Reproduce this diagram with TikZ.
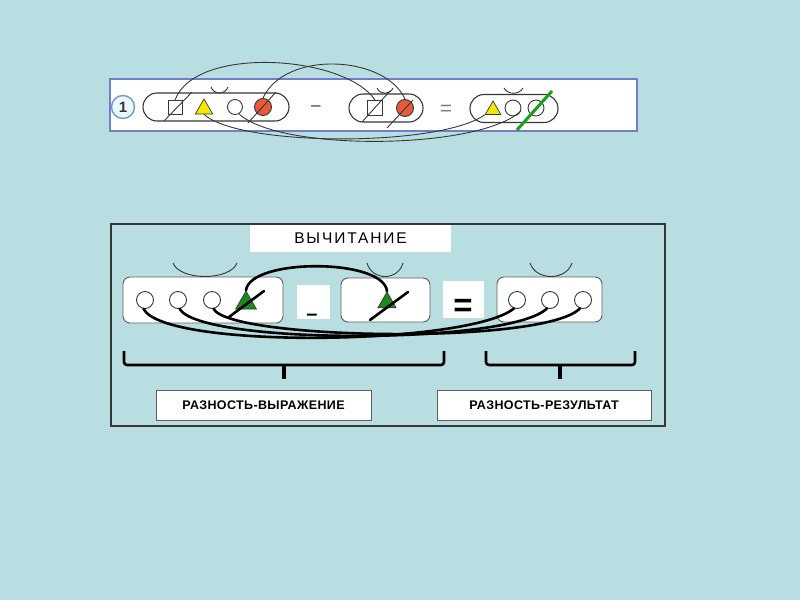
\documentclass[tikz,border=0pt]{standalone}
\usepackage{fontspec}
\setmainfont{Liberation Sans}
\usepackage{tikz}
\usetikzlibrary{shapes.geometric,calc}
\definecolor{sea}{RGB}{185,222,226}
\definecolor{frameblue}{RGB}{112,126,205}
\definecolor{tomato}{RGB}{232,90,58}
\definecolor{lemon}{RGB}{246,232,0}
\definecolor{leaf}{RGB}{28,138,30}
\definecolor{pen}{RGB}{55,55,55}

\begin{document}
\begin{tikzpicture}[x=1pt,y=-1pt,
  pill/.style={draw=pen, line width=1.1pt, rounded corners=14pt, inner sep=0, minimum height=28},
  ring/.style={draw=pen, circle, inner sep=0, line width=0.9pt},
  tri/.style={draw=pen, regular polygon, regular polygon sides=3, inner sep=0, line width=0.7pt},
  card/.style={draw=pen!80, fill=white, rounded corners=7pt, inner sep=0, line width=0.9pt},
  tag/.style={draw=pen!80, fill=white, inner sep=0, line width=0.9pt, font=\fontsize{12.5}{14}\selectfont\bfseries\addfontfeatures{LetterSpace=3}},
  link/.style={line width=2.6pt, line cap=round},
  thread/.style={pen, line width=0.9pt},
  smile/.style={pen, line width=0.9pt}]
\useasboundingbox (0,0) rectangle (800,600);
\fill [sea] (0,0) rectangle (800,600);
% upper strip
\draw [frameblue, line width=1.3pt, fill=white] (110,79) rectangle (637,131);
\node [circle, draw=cyan!50!blue!60, fill=cyan!8, line width=1.4pt, minimum size=23, inner sep=0, font=\fontsize{15}{15}\selectfont\bfseries, text=pen] (n1) at (123,107) {1};
\node [pill, minimum width=146] (c1) at (216,107) {};
\node [draw=pen, minimum size=14, inner sep=0, line width=0.9pt] (sq1) at (175,107.5) {};
\node [tri, fill=lemon, minimum size=20] (tr1) at (204,109) {};
\node [ring, minimum size=15] (ci1) at (235,107) {};
\node [ring, fill=tomato, minimum size=17] (rd1) at (263,107) {};
\draw [smile] (211,87) .. controls (214,95) and (225,95) .. (228,87);
\draw [thread] (164,121) -- (192,92);
\draw [thread] (248,123) -- (276,92);
\node [text=gray, font=\fontsize{19}{19}\selectfont\bfseries] (mi1) at (316,108) {–};
\node [pill, minimum width=74] (c2) at (386,108) {};
\node [draw=pen, minimum size=15, inner sep=0, line width=0.9pt] (sq2) at (375,108) {};
\node [ring, fill=tomato, minimum size=17] (rd2) at (405,108) {};
\draw [smile] (377,88) .. controls (380,95) and (390,95) .. (393,88);
\draw [thread] (362,122) -- (390,91);
\draw [thread] (387,128) -- (413,100);
\node [text=gray, font=\fontsize{21}{21}\selectfont] (eq1) at (446,110) {=};
\node [pill, minimum width=88] (c3) at (514,108.5) {};
\node [tri, fill=lemon, minimum size=18] (tr3) at (493,110) {};
\node [ring, minimum size=16] (ci3) at (513,108) {};
\node [ring, minimum size=16] (cj3) at (536,108) {};
\draw [smile] (504,88) .. controls (508,95) and (519,95) .. (523,88);
\draw [leaf!80!green, line width=3pt] (517,130) -- (552,91);
\draw [thread] (sq1.north) .. controls (195,45) and (345,55) .. (sq2.north);
\draw [thread] (rd1.north) .. controls (285,50) and (385,55) .. (rd2.north);
\draw [thread] (tr1.south) .. controls (240,147) and (440,147) .. (tr3.corner 2);
\draw [thread] (ci1.-60) .. controls (280,152) and (480,150) .. (ci3.-20);
% lower panel
\draw [pen, line width=1.3pt] (111,224) rectangle (665,426);
\node [fill=white, minimum width=201, minimum height=27, inner sep=0, font=\fontsize{15.5}{16}\selectfont\addfontfeatures{LetterSpace=12}] (ttl) at (350.5,238.5) {ВЫЧИТАНИЕ};
\node [card, minimum width=160, minimum height=46] (b1) at (203,300) {};
\node [ring, fill=white, minimum size=17] (p1) at (145,300) {};
\node [ring, fill=white, minimum size=17] (p2) at (178,300) {};
\node [ring, fill=white, minimum size=17] (p3) at (212,300) {};
\node [tri, fill=leaf, minimum size=24] (g1) at (246,303) {};
\draw [link] (229,317) -- (264,291);
\node [fill=white, minimum width=33, minimum height=34, inner sep=0] (mb) at (313.5,302) {};
\node [font=\fontsize{20}{20}\selectfont\bfseries] (ms) at (312,317) {–};
\node [card, minimum width=89, minimum height=44] (b2) at (385.5,300) {};
\node [tri, fill=leaf, minimum size=21] (g2) at (387,302.5) {};
\draw [link] (370,320) -- (408,292);
\node [fill=white, minimum width=41, minimum height=37, inner sep=0] (eb) at (463.5,299.5) {};
\node [font=\fontsize{33}{33}\selectfont\bfseries] (es) at (463,308) {=};
\node [card, minimum width=105, minimum height=45] (b3) at (549.5,299.5) {};
\node [ring, fill=white, minimum size=17] (q1) at (517,300) {};
\node [ring, fill=white, minimum size=17] (q2) at (550,300) {};
\node [ring, fill=white, minimum size=17] (q3) at (583,300) {};
\draw [smile] (173,263) .. controls (180,281) and (230,281) .. (237,263);
\draw [smile] (367,263) .. controls (372,281) and (398,281) .. (403,263);
\draw [smile] (530,263) .. controls (536,281) and (566,281) .. (572,263);
\draw [link] (g1.corner 1) .. controls (250,258) and (384,258) .. (g2.corner 1);
\draw [link] (p1.-100) .. controls (165,350) and (470,345) .. (q1.-110);
\draw [link] (p2.-80) .. controls (200,345) and (510,345) .. (q2.-110);
\draw [link] (p3.-80) .. controls (230,340) and (545,345) .. (q3.-110);
% braces
\draw [link, line cap=butt, rounded corners=3pt] (124,351) -- (124,365) -- (444,365) -- (444,351);
\draw [link, line cap=butt, line width=3.2pt] (284,365) -- (284,379);
\draw [link, line cap=butt, rounded corners=3pt] (486,351) -- (486,365) -- (635,365) -- (635,351);
\draw [link, line cap=butt, line width=3.2pt] (560,365) -- (560,379);
\node [tag, minimum width=215, minimum height=30] (t1) at (263.5,405) {РАЗНОСТЬ-ВЫРАЖЕНИЕ};
\node [tag, minimum width=214, minimum height=30] (t2) at (544,405) {РАЗНОСТЬ-РЕЗУЛЬТАТ};
\end{tikzpicture}
\end{document}
